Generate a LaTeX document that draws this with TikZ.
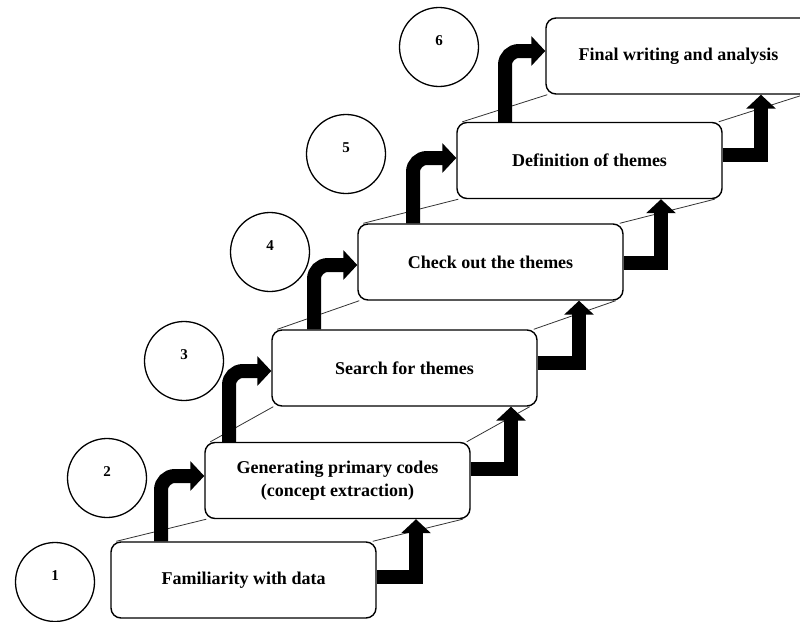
\documentclass[tikz,border=0pt]{standalone}
\usepackage{fontspec}
\setmainfont{Liberation Serif}
\usetikzlibrary{arrows.meta,backgrounds}
\begin{document}
\begin{tikzpicture}[x=1pt,y=-1pt,
  stepbox/.style={draw, line width=1.4pt, rounded corners=10pt, fill=white,
    minimum width=265pt, minimum height=76pt, align=center, inner sep=0pt,
    font=\fontsize{18}{23}\selectfont\bfseries},
  numcirc/.style={draw, circle, line width=1.3pt, minimum size=79pt, inner sep=0pt},
  numtext/.style={font=\fontsize{15}{18}\selectfont\bfseries, yshift=6pt},
  arr/.style={line width=14pt, -{Triangle[width=29pt,length=14pt]}},
  guide/.style={line width=0.8pt, black!80}
]
\useasboundingbox (0,0) rectangle (800,621);
\clip (0,0) rectangle (800,621);

% numbered circles
\node[numcirc, label={[numtext]center:1}] (c1) at (55,582) {};
\node[numcirc, label={[numtext]center:2}] (c2) at (107,478) {};
\node[numcirc, label={[numtext]center:3}] (c3) at (184,361) {};
\node[numcirc, label={[numtext]center:4}] (c4) at (270,252) {};
\node[numcirc, label={[numtext]center:5}] (c5) at (346,154) {};
\node[numcirc, label={[numtext]center:6}] (c6) at (439,47) {};

% step boxes
\node[stepbox] (b1) at (243.5,580) {Familiarity with data};
\node[stepbox] (b2) at (337.5,480.5) {Generating primary codes\\(concept extraction)};
\node[stepbox] (b3) at (404.5,368) {Search for themes};
\node[stepbox] (b4) at (490.5,262) {Check out the themes};
\node[stepbox] (b5) at (589.5,160.5) {Definition of themes};
\node[stepbox] (b6) at (678.5,56) {Final writing and analysis};

% thin guide lines (stair sides)
\begin{scope}[on background layer]
\foreach \a/\b in {b1/b2,b2/b3,b3/b4,b4/b5,b5/b6}{
  \draw[guide] ([xshift=6pt]\a.north west) -- ([xshift=2pt]\b.south west);
  \draw[guide] ([xshift=-4pt]\a.north east) -- ([xshift=-8pt]\b.south east);
}
\end{scope}

% arrow routing points
\coordinate (l1) at (161,476);
\coordinate (l2) at (229,371);
\coordinate (l3) at (314,265);
\coordinate (l4) at (413,158);
\coordinate (l5) at (505,51);
\coordinate (r1) at (416,577);
\coordinate (r2) at (511,469);
\coordinate (r3) at (579,363);
\coordinate (r4) at (661,263);
\coordinate (r5) at (761,155);

% left curved arrows
\draw[arr, rounded corners=14pt] (b1.north -| l1) |- (b2.west |- l1);
\draw[arr, rounded corners=14pt] (b2.north -| l2) |- (b3.west |- l2);
\draw[arr, rounded corners=14pt] (b3.north -| l3) |- (b4.west |- l3);
\draw[arr, rounded corners=14pt] (b4.north -| l4) |- (b5.west |- l4);
\draw[arr, rounded corners=14pt] (b5.north -| l5) |- (b6.west |- l5);

% right elbow arrows
\draw[arr] (b1.east |- r1) -| (b2.south -| r1);
\draw[arr] (b2.east |- r2) -| (b3.south -| r2);
\draw[arr] (b3.east |- r3) -| (b4.south -| r3);
\draw[arr] (b4.east |- r4) -| (b5.south -| r4);
\draw[arr] (b5.east |- r5) -| (b6.south -| r5);
\end{tikzpicture}
\end{document}
